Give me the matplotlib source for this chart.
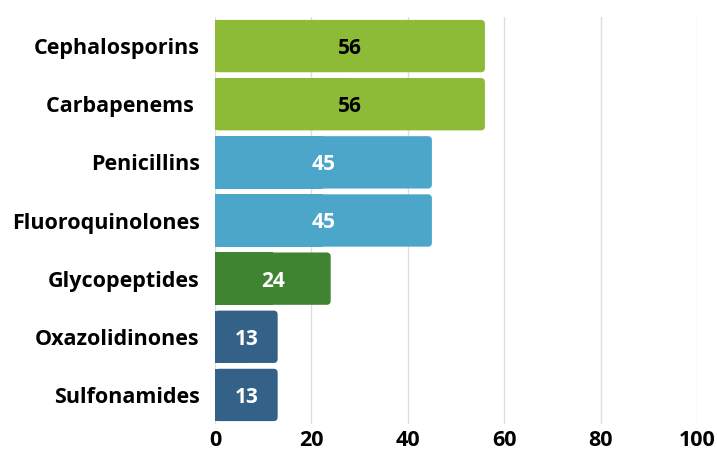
import matplotlib.pyplot as plt
from matplotlib.patches import FancyBboxPatch, Rectangle

plt.rcParams["font.family"] = ["Open Sans", "DejaVu Sans"]

categories = ["Cephalosporins", "Carbapenems ", "Penicillins", "Fluoroquinolones",
              "Glycopeptides", "Oxazolidinones", "Sulfonamides"]
values = [56, 56, 45, 45, 24, 13, 13]
colors = ["#8dba37", "#8dba37", "#4ba6c9", "#4ba6c9", "#3f8430", "#336187", "#336187"]
text_colors = ["black", "black", "white", "white", "white", "white", "white"]
xticks = [0, 20, 40, 60, 80, 100]

fig = plt.figure(figsize=(7.17, 4.5), dpi=100)
ax = fig.add_axes([215 / 717, 1 - 424 / 450, 482 / 717, 407 / 450])

ypos = list(range(len(categories)))
bars = ax.barh(ypos, values, height=0.9, color="none", edgecolor="none")

ax.set_xlim(0, 100)
ax.set_ylim(len(categories) - 0.5, -0.5)

# rounded right corners only: x/y data units differ in pixel size
px_x = 482 / 100
px_y = 407 / len(categories)
r = 4 / px_x
for bar, c, tc, v in zip(bars, colors, text_colors, values):
    x0, y0 = bar.get_x(), bar.get_y()
    w, h = bar.get_width(), bar.get_height()
    ax.add_patch(FancyBboxPatch((x0, y0), w, h,
                                boxstyle=f"round,pad=0,rounding_size={r}",
                                mutation_aspect=px_x / px_y,
                                facecolor=c, edgecolor="none", zorder=2))
    ax.add_patch(Rectangle((x0, y0), w / 2, h, facecolor=c, edgecolor="none", zorder=2))
    ax.text(v / 2, y0 + h / 2, str(v), ha="center", va="center_baseline", color=tc,
            fontsize=15, fontweight="bold", zorder=3)

ax.set_yticks(ypos)
ax.set_yticklabels(categories, fontsize=15.5, fontweight="bold")
ax.set_xticks(xticks)
ax.set_xticklabels([str(t) for t in xticks], fontsize=15.5, fontweight="bold")
ax.tick_params(axis="both", length=0)
ax.tick_params(axis="y", pad=11)
ax.tick_params(axis="x", pad=4)
ax.grid(axis="x", color="#dddddd", linewidth=1, zorder=0)
ax.set_axisbelow(True)
for s in ax.spines.values():
    s.set_visible(False)

fig.savefig("out.png", dpi=100)
